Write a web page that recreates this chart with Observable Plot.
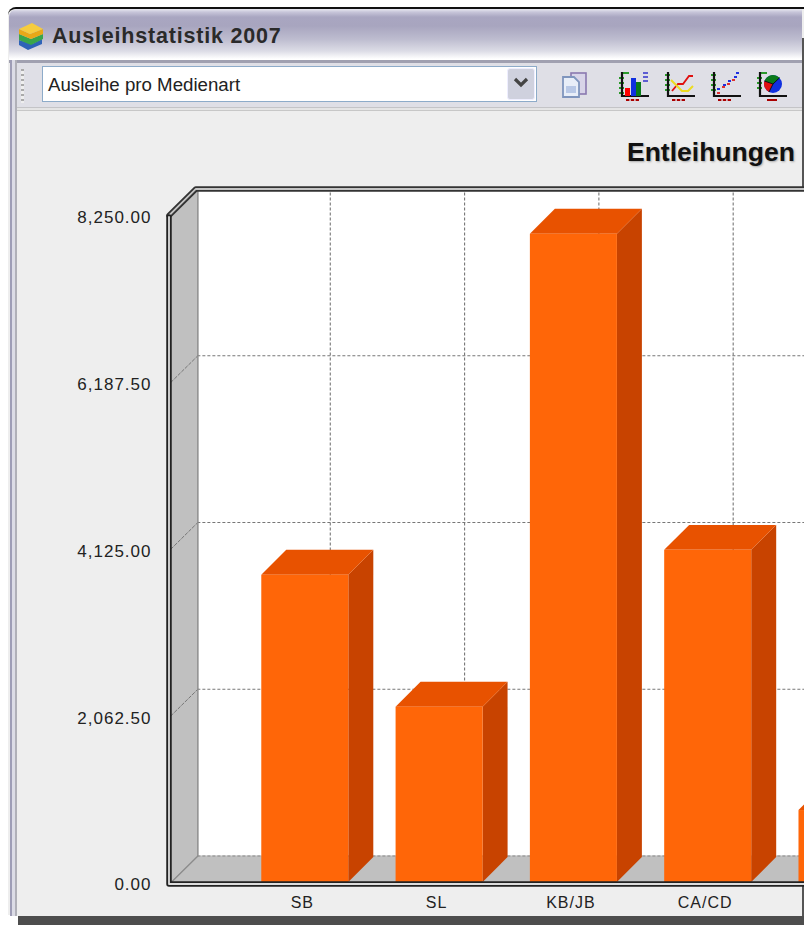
<!DOCTYPE html>
<html lang="de">
<head>
<meta charset="utf-8">
<title>Ausleihstatistik 2007</title>
<script src="https://cdn.jsdelivr.net/npm/d3@7"></script>
<script src="https://cdn.jsdelivr.net/npm/@observablehq/plot@0.6"></script>
<style>
  html,body{margin:0;padding:0;background:#fff;overflow:hidden;}
  #page{position:relative;width:804px;height:925px;overflow:hidden;font-family:"Liberation Sans",Arial,sans-serif;}
  #page>div,#page>svg{position:absolute;}
  #win{left:8px;top:7px;width:796px;height:908px;background:#eee;border-top:2px solid #111;border-radius:8px 0 0 0;box-sizing:border-box;overflow:hidden;}
  #bar{left:9px;top:9px;width:793px;height:52px;border-radius:8px 0 0 0;background:linear-gradient(#e8e8f0 0,#c8c6da 3px,#a9a6c1 8px,#a8a5bf 17px,#bdbccf 30px,#dcdce6 42px,#fff 50px);}
  #barline{left:9px;top:60px;width:793px;height:3px;background:#a0a0b0;}
  #tool{left:17px;top:63px;width:785px;height:44px;background:#dfdfe6;}
  #toolline{left:17px;top:107px;width:785px;height:4px;background:linear-gradient(#b4b4b8,#f4f4f4 50%,#b8b8b8);}
  #lb1{left:10px;top:60px;width:2px;height:856px;background:#9e9db6;}
  #lb2{left:12px;top:60px;width:3px;height:856px;background:#dcdce6;}
  #lb3{left:15px;top:60px;width:2px;height:856px;background:#b0b0b8;}
  #panel{left:17px;top:111px;width:785px;height:805px;background:#eee;}
  #rb{left:802px;top:38px;width:2px;height:878px;background:#555;}
  #bb{left:18px;top:916px;width:786px;height:9px;background:#4d4d4d;}
  #name{left:52px;top:24px;font-weight:bold;font-size:21.5px;letter-spacing:.8px;color:#2a2a2a;white-space:nowrap;}
  #combo{left:42px;top:66px;width:495px;height:36px;background:#fff;border:1.5px solid #8dabc9;box-sizing:border-box;}
  #combotext{left:48px;top:74px;font-size:18.7px;color:#222;white-space:nowrap;}
  #drop{left:507px;top:68px;width:28px;height:32px;background:#cfd1de;border:1px solid #eef;border-radius:3px;box-sizing:border-box;}
  #charttitle{left:627px;top:137px;font-weight:bold;font-size:26.5px;color:#111;white-space:nowrap;text-shadow:1px 1px 2px #aaa;}
  #grip{left:21px;top:69px;width:3px;height:34px;background:repeating-linear-gradient(#aaa 0 2px,#eee 2px 5px);}
  #chart text{letter-spacing:1px;}
</style>
</head>
<body>
<div id="page">
  <div id="win"></div>
  <div id="bar"></div>
  <div id="barline"></div>
  <div id="tool"></div>
  <div id="toolline"></div>
  <div id="panel"></div>
  <div id="lb1"></div><div id="lb2"></div><div id="lb3"></div>
  <div id="rb"></div>
  <div id="bb"></div>
  <div id="grip"></div>
  <svg style="left:16px;top:21px" width="28" height="30" viewBox="0 0 28 30">
    <path d="M3 19 L16 23 L26 18 L26 23 L12 29 L3 24Z" fill="#2e63b8"/>
    <path d="M3 13 L15 18 L27 13 L27 18 L15 24 L3 19Z" fill="#3aa64a"/>
    <path d="M3 8 L14 13 L27 8 L27 13 L15 18 L3 13Z" fill="#e8a818"/>
    <path d="M3 8 L16 2 L27 8 L14 13Z" fill="#f6cc3e"/>
  </svg>
  <div id="name">Ausleihstatistik 2007</div>
  <div id="combo"></div>
  <div id="combotext">Ausleihe pro Medienart</div>
  <div id="drop"></div>
  <svg style="left:510px;top:76px" width="22" height="16" viewBox="0 0 22 16"><path d="M5 3 L11 9 L17 3" fill="none" stroke="#444" stroke-width="3.2"/></svg>
  <svg style="left:560px;top:70px" width="30" height="30" viewBox="0 0 30 30">
    <rect x="11" y="3" width="15" height="21" fill="#d8d4e8" stroke="#8a78b0" stroke-width="1.6"/>
    <path d="M3 7 H14 L19 12 V27 H3Z" fill="#e8eef8" stroke="#7f95bd" stroke-width="1.8"/><rect x="6" y="16" width="10" height="7" fill="#b8c8e6"/>
  </svg>
  <svg style="left:618px;top:69px" width="34" height="32" viewBox="0 0 34 32">
    <path d="M3 4 h8 M1 9 h5 M1 14 h5 M1 19 h5 M1 24 h5" stroke="#2a9a2a" stroke-width="1.8"/>
    <path d="M4 3 V27 H31" fill="none" stroke="#111" stroke-width="2.2"/>
    <rect x="7" y="19" width="5" height="8" fill="#f00"/><rect x="13" y="9" width="5" height="18" fill="#1030e0"/><rect x="18" y="13" width="5" height="14" fill="#0a7a1a"/>
    <path d="M25 4h5M25 8h5M25 12h5" stroke="#33c" stroke-width="1.4"/>
    <path d="M8 31h14" stroke="#a00" stroke-width="2" stroke-dasharray="3.4 1.4"/>
  </svg>
  <svg style="left:664px;top:69px" width="34" height="32" viewBox="0 0 34 32">
    <path d="M1 6 h5 M1 11 h5 M1 16 h5 M1 21 h5" stroke="#2a9a2a" stroke-width="1.8"/>
    <path d="M4 3 V27 H31" fill="none" stroke="#111" stroke-width="2.2"/>
    <path d="M8 22 L14 15 H19 L25 7 H29" fill="none" stroke="#e01010" stroke-width="1.8"/>
    <path d="M7 11 L13 17 L18 22 H24 L29 17" fill="none" stroke="#ecdc20" stroke-width="2"/>
    <path d="M8 31h14" stroke="#a00" stroke-width="2" stroke-dasharray="3.4 1.4"/>
  </svg>
  <svg style="left:710px;top:69px" width="34" height="32" viewBox="0 0 34 32">
    <path d="M1 6 h5 M1 11 h5 M1 16 h5 M1 21 h5" stroke="#2a9a2a" stroke-width="1.8"/>
    <path d="M4 3 V27 H31" fill="none" stroke="#111" stroke-width="2.2"/>
    <path d="M7 24h3M12 18h3M17 15h3M22 11h3" stroke="#e03030" stroke-width="2"/>
    <path d="M7 20h3M13 16h3M18 12h3M24 8h3M26 4h3" stroke="#2030e0" stroke-width="2"/>
    <path d="M8 31h14" stroke="#a00" stroke-width="2" stroke-dasharray="3.4 1.4"/>
  </svg>
  <svg style="left:756px;top:69px" width="34" height="32" viewBox="0 0 34 32">
    <path d="M3 4 h8 M1 9 h5 M1 14 h5 M1 19 h5" stroke="#2a9a2a" stroke-width="1.8"/>
    <path d="M4 3 V27 H31" fill="none" stroke="#111" stroke-width="2.2"/>
    <circle cx="17" cy="15" r="9" fill="#1030e0"/><path d="M17 15 L8.5 12 A9 9 0 0 1 23.5 8.8Z" fill="#0a7a1a"/><path d="M17 15 L8.5 12 A9 9 0 0 0 13 23Z" fill="#e01010"/>
    <path d="M17 15 L23.5 8.8M17 15 L8.5 12M17 15 L13 23" stroke="#111" stroke-width="1"/>
    <path d="M11 31h10" stroke="#a00" stroke-width="2"/>
  </svg>
  <div id="charttitle">Entleihungen</div>
  <div id="chart" style="left:0;top:0;width:804px;height:925px"></div>
</div>
<script>
const categories = ["SB", "SL", "KB/JB", "CA/CD", ""];
const values = [3800, 2168, 8018, 4108, 890];
const yTicks = [0, 2062.5, 4125, 6187.5, 8250];

const yMax = 8250;
const xLeft = -1, xEnd = 5;
const barHalf = 0.324;
const barDepthX = 0.186, barDepthY = 309;
const wallDepthX = 0.2, wallDepthY = 328;
const backLeft = xLeft + wallDepthX;
const yBackTop = yMax + wallDepthY;

const bars = categories.map((name, i) => ({name, i, value: values[i]}));
const sideFaces = bars.flatMap(b => [
  {i: b.i, x: b.i + barHalf, y1: 0, y2: b.value},
  {i: b.i, x: b.i + barHalf + barDepthX, y1: barDepthY, y2: b.value + barDepthY}
]);
const topFaces = bars.flatMap(b => [
  {i: b.i, y: b.value, x1: b.i - barHalf, x2: b.i + barHalf},
  {i: b.i, y: b.value + barDepthY, x1: b.i - barHalf + barDepthX, x2: b.i + barHalf + barDepthX}
]);
const leftWall = [
  {x: xLeft, y1: 0, y2: yMax},
  {x: backLeft, y1: wallDepthY, y2: yBackTop}
];
const floor = [
  {y: 0, x1: xLeft, x2: xEnd},
  {y: wallDepthY, x1: backLeft, x2: xEnd}
];
const slants = yTicks.slice(1, 4).flatMap(t => [
  {t, x: xLeft, y: t},
  {t, x: backLeft, y: t + wallDepthY}
]);
const frameFront = [{x: xLeft, y: yMax}, {x: xLeft, y: 0}, {x: xEnd, y: 0}];
const frameBack = [{x: xLeft, y: yMax}, {x: backLeft, y: yBackTop}, {x: xEnd, y: yBackTop}];
const wallEdge = [{x: xLeft, y: 0}, {x: backLeft, y: wallDepthY}, {x: backLeft, y: yBackTop}];

const dash = {stroke: "#777", strokeWidth: 1.1, strokeDasharray: "3,2"};

const chart = Plot.plot({
  width: 804, height: 925,
  marginLeft: 171, marginBottom: 43, marginTop: 0, marginRight: 0,
  style: {background: "transparent", fontFamily: "'Liberation Sans', Arial, sans-serif"},
  x: {type: "linear", domain: [-1, 4], range: [170.5, 842]},
  y: {type: "linear", domain: [0, yMax], range: [882, 215]},
  marks: [
    Plot.rect([0], {x1: backLeft, x2: xEnd, y1: wallDepthY, y2: yBackTop, fill: "#fff"}),
    Plot.areaY(leftWall, {x: "x", y1: "y1", y2: "y2", fill: "#c0c0c0", curve: "linear"}),
    Plot.areaX(floor, {y: "y", x1: "x1", x2: "x2", fill: "#c0c0c0", curve: "linear"}),
    Plot.ruleY(yTicks.slice(1, 4).map(t => t + wallDepthY), {x1: backLeft, x2: xEnd, ...dash}),
    Plot.ruleY([wallDepthY], {x1: backLeft, x2: xEnd, ...dash, stroke: "#888"}),
    Plot.ruleX([0, 1, 2, 3, 4].map(i => i + barDepthX), {y1: wallDepthY, y2: yBackTop - 40, ...dash}),
    Plot.line(slants, {x: "x", y: "y", z: "t", stroke: "#777", strokeWidth: 1, strokeDasharray: "3,2"}),
    Plot.line(wallEdge, {x: "x", y: "y", stroke: "#8c8c8c", strokeWidth: 1.5}),
    Plot.areaY(sideFaces, {x: "x", y1: "y1", y2: "y2", z: "i", fill: "#c84300", curve: "linear"}),
    Plot.areaX(topFaces, {y: "y", x1: "x1", x2: "x2", z: "i", fill: "#e85200", curve: "linear"}),
    Plot.rect(bars, {x1: d => d.i - barHalf, x2: d => d.i + barHalf, y1: 0, y2: "value", fill: "#ff6608", inset: 0}),
    Plot.line(frameBack, {x: "x", y: "y", dx: -2, stroke: "#333", strokeWidth: 5.5}),
    Plot.line(frameBack, {x: "x", y: "y", dx: -2, stroke: "#c4c4c4", strokeWidth: 1.8}),
    Plot.line(frameFront, {x: "x", y: "y", dx: -2, dy: 1.5, stroke: "#222", strokeWidth: 5.5}),
    Plot.line(frameFront, {x: "x", y: "y", dx: -2, dy: 1.5, stroke: "#ddd", strokeWidth: 1.8}),
    Plot.axisY({
      ticks: yTicks, tickFormat: d3.format(",.2f"), tickSize: 0, tickPadding: 20, dy: 2.5, label: null,
      fontSize: 17, fill: "#222"
    }),
    Plot.axisX({
      ticks: [0, 1, 2, 3], tickFormat: i => categories[i], tickSize: 0, tickPadding: 14, dx: -3, label: null,
      fontSize: 16, fill: "#222"
    })
  ]
});
document.getElementById("chart").appendChild(chart);
</script>
</body>
</html>
